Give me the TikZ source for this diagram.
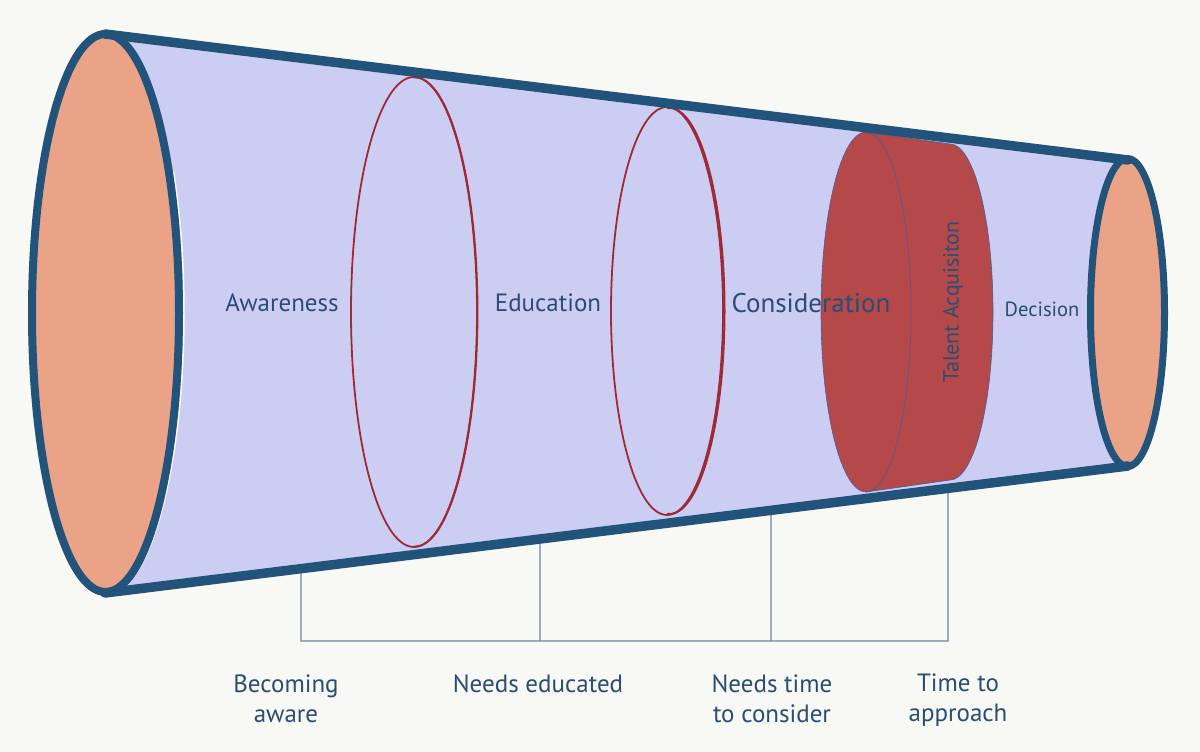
\documentclass[tikz,border=0pt]{standalone}
\usepackage{fontspec}
\setmainfont{PT Sans}
\usetikzlibrary{calc}
\definecolor{bg}{HTML}{F8F8F4}
\definecolor{lav}{HTML}{CCCDF3}
\definecolor{navy}{HTML}{22537A}
\definecolor{peach}{HTML}{EBA388}
\definecolor{ringred}{HTML}{9E2A35}
\definecolor{tared}{HTML}{B5494A}
\definecolor{tadge}{HTML}{4A5C99}
\definecolor{txt}{HTML}{2A4D75}
\definecolor{brk}{HTML}{6F84A6}
\begin{document}
\begin{tikzpicture}[x=1pt,y=-1pt,
  ring/.style={draw=ringred,line width=1.8pt},
  rim/.style={draw=navy,fill=peach},
  edge/.style={draw=navy,line width=9.5pt,line cap=round},
  brace/.style={draw=brk,line width=1.1pt},
  stage/.style={text=txt,inner sep=0pt,font=\fontsize{25}{28}\selectfont},
  caption/.style={text=txt,inner sep=0pt,align=center,font=\fontsize{25}{30}\selectfont}]
\fill[bg] (0,0) rectangle (1200,752);
\useasboundingbox (0,0) rectangle (1200,752);
% funnel body
\fill[lav] (105,33) -- (1128,160) -- (1128,466) -- (105,593) -- cycle;
% rings
\draw[ring] (414,312) ellipse [x radius=63, y radius=235];
\begin{scope}
\clip (414,0) rectangle (520,752);
\draw[ring] (415,312) ellipse [x radius=62.5, y radius=234.5];
\end{scope}
\draw[ring] (667,311) ellipse [x radius=56, y radius=204];
\begin{scope}
\clip (667,0) rectangle (800,752);
\draw[ring,line width=2pt] (669.5,311) ellipse [x radius=55, y radius=203];
\end{scope}
% talent acquisition cylinder
\filldraw[fill=tared,draw=tadge,line width=0.6pt]
  (866,132) arc[start angle=270,end angle=90,x radius=45,y radius=180]
  -- (950,480) arc[start angle=90,end angle=-90,x radius=43,y radius=168] -- cycle;
\draw[tadge,line width=0.7pt] (866,132) arc[start angle=270,end angle=450,x radius=45,y radius=180];
% left rim
\draw[white,line width=1.5pt] (105.5,313) ++(-30:78.5 and 283) arc[start angle=-30,end angle=85,x radius=78.5,y radius=283];
\path[rim,line width=8pt] (105.5,313) ellipse [x radius=73.5, y radius=279];
% right rim
\path[rim,line width=7pt] (1127.5,312.5) ellipse [x radius=37, y radius=154];
% edge end points
\coordinate (tl) at (105,34);
\coordinate (tr) at (1128,160);
\coordinate (bl) at (105,593);
\coordinate (br) at (1128,466);
% bracket
\coordinate (b1) at ($(bl)!{(301-105)/1023}!(br)$);
\coordinate (b2) at ($(bl)!{(540-105)/1023}!(br)$);
\coordinate (b3) at ($(bl)!{(771-105)/1023}!(br)$);
\coordinate (b4) at ($(bl)!{(948-105)/1023}!(br)$);
\coordinate (f1) at (301,641);
\coordinate (f2) at (540,641);
\coordinate (f3) at (771,641);
\coordinate (f4) at (948,641);
\draw[brace] (b1) -- (f1) -- (f4) -- (b4);
\draw[brace] (b2) -- (f2);
\draw[brace] (b3) -- (f3);
% edges
\path[edge] (tl) -- (tr);
\path[edge] (bl) -- (br);
% stage labels
\node[stage] (aw) at (282,303) {Awareness};
\node[stage] (ed) at (548,303) {Education};
\node[stage,font=\fontsize{27}{30}\selectfont] (co) at (811,303) {Consideration};
\node[stage,rotate=90,font=\fontsize{22}{24}\selectfont] (ta) at (953,302) {Talent Acquisiton};
\node[stage,font=\fontsize{20.5}{24}\selectfont] (de) at (1042,309) {Decision};
% captions
\node[caption] (c1) at (286,699) {Becoming\\aware};
\node[caption] (c2) at (538,684) {Needs educated};
\node[caption] (c3) at (772,699) {Needs time\\to consider};
\node[caption] (c4) at (958,700) {Time to\\approach};
\end{tikzpicture}
\end{document}
